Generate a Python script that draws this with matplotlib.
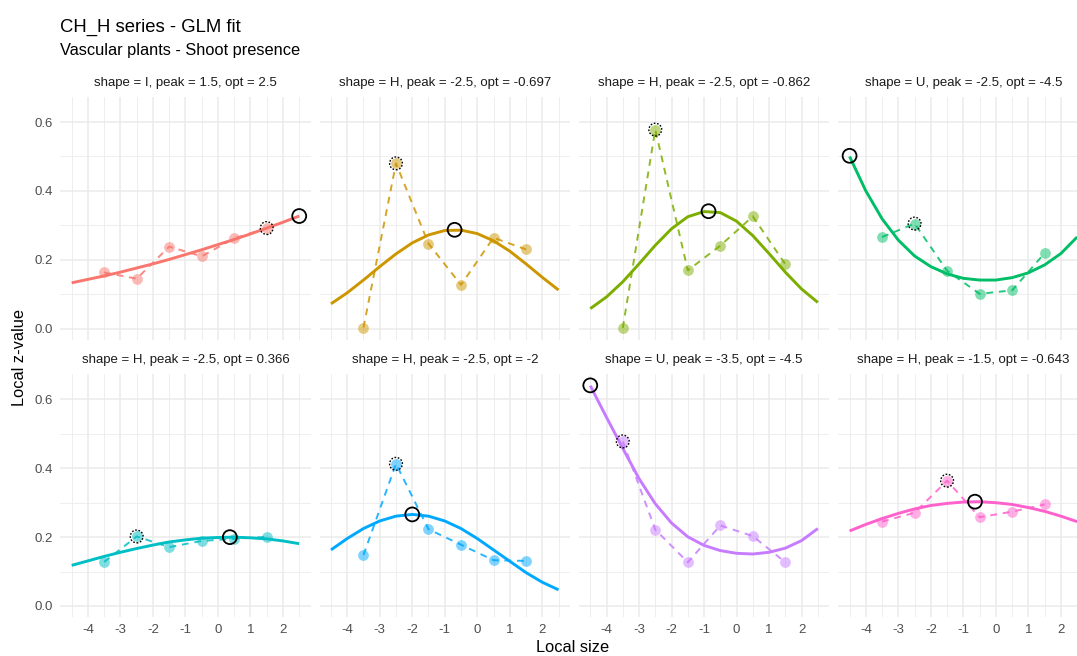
import matplotlib
matplotlib.use("Agg")
import matplotlib.pyplot as plt
from matplotlib.ticker import MultipleLocator
from matplotlib.transforms import offset_copy

plt.rcParams['font.family'] = ['Liberation Sans', 'DejaVu Sans']
plt.rcParams['axes.unicode_minus'] = False

# ---------------- data ----------------
size_points = [-3.5, -2.5, -1.5, -0.5, 0.5, 1.5]
fit_x = [-4.5, -4.0, -3.5, -3.0, -2.5, -2.0, -1.5, -1.0, -0.5, 0.0, 0.5, 1.0, 1.5, 2.0, 2.5]

panel_titles = [
    "shape = I, peak = 1.5, opt = 2.5",
    "shape = H, peak = -2.5, opt = -0.697",
    "shape = H, peak = -2.5, opt = -0.862",
    "shape = U, peak = -2.5, opt = -4.5",
    "shape = H, peak = -2.5, opt = 0.366",
    "shape = H, peak = -2.5, opt = -2",
    "shape = U, peak = -3.5, opt = -4.5",
    "shape = H, peak = -1.5, opt = -0.643",
]
panel_colors = ["#F8766D", "#CD9600", "#7CAE00", "#00BE67",
                "#00BFC4", "#00A9FF", "#C77CFF", "#FF61CC"]

z_p1 = [0.163, 0.145, 0.238, 0.210, 0.262, 0.292]
z_p2 = [0.003, 0.480, 0.247, 0.127, 0.264, 0.230]
z_p3 = [0.002, 0.578, 0.169, 0.241, 0.326, 0.187]
z_p4 = [0.266, 0.305, 0.168, 0.101, 0.111, 0.219]
z_p5 = [0.128, 0.202, 0.171, 0.189, 0.195, 0.201]
z_p6 = [0.148, 0.413, 0.223, 0.178, 0.133, 0.131]
z_p7 = [0.478, 0.222, 0.127, 0.234, 0.203, 0.127]
z_p8 = [0.245, 0.271, 0.364, 0.258, 0.274, 0.295]

fit_p1 = [0.133, 0.143, 0.153, 0.164, 0.176, 0.188, 0.201, 0.215, 0.229, 0.244, 0.259, 0.275, 0.292, 0.309, 0.327]
fit_p2 = [0.072, 0.104, 0.141, 0.180, 0.217, 0.249, 0.272, 0.285, 0.286, 0.276, 0.255, 0.225, 0.188, 0.149, 0.112]
fit_p3 = [0.058, 0.092, 0.136, 0.188, 0.242, 0.290, 0.325, 0.340, 0.337, 0.312, 0.270, 0.218, 0.164, 0.115, 0.076]
fit_p4 = [0.500, 0.400, 0.319, 0.257, 0.211, 0.180, 0.159, 0.146, 0.141, 0.141, 0.148, 0.162, 0.185, 0.218, 0.266]
fit_p5 = [0.118, 0.131, 0.144, 0.156, 0.167, 0.177, 0.186, 0.192, 0.197, 0.199, 0.200, 0.198, 0.195, 0.189, 0.181]
fit_p6 = [0.163, 0.196, 0.225, 0.247, 0.261, 0.266, 0.261, 0.247, 0.225, 0.196, 0.163, 0.130, 0.097, 0.069, 0.047]
fit_p7 = [0.640, 0.548, 0.458, 0.370, 0.297, 0.241, 0.201, 0.176, 0.161, 0.153, 0.151, 0.156, 0.168, 0.190, 0.225]
fit_p8 = [0.218, 0.237, 0.254, 0.269, 0.282, 0.292, 0.298, 0.302, 0.303, 0.300, 0.295, 0.286, 0.275, 0.261, 0.245]

peak_x = [1.5, -2.5, -2.5, -2.5, -2.5, -2.5, -3.5, -1.5]
opt_x = [2.5, -0.697, -0.862, -4.5, 0.366, -2.0, -4.5, -0.643]
opt_y = [0.327, 0.287, 0.341, 0.502, 0.200, 0.266, 0.641, 0.303]

x_ticks = [-4, -3, -2, -1, 0, 1, 2]
x_tick_labels = ["-4", "-3", "-2", "-1", "0", "1", "2"]
y_ticks = [0.0, 0.2, 0.4, 0.6]
y_tick_labels = ["0.0", "0.2", "0.4", "0.6"]

z_all = [z_p1, z_p2, z_p3, z_p4, z_p5, z_p6, z_p7, z_p8]
fit_all = [fit_p1, fit_p2, fit_p3, fit_p4, fit_p5, fit_p6, fit_p7, fit_p8]

# ---------------- layout ----------------
W, H = 1077, 656
fig = plt.figure(figsize=(W / 100, H / 100), dpi=100)
fig.patch.set_facecolor("white")

col_left = [60.3, 319.6, 578.9, 838.2]
col_w = 250.3
row_top = [96.6, 374.0]
row_h = 243.0

grid_col = "#EBEBEB"
txt_col = "#1A1A1A"
tick_col = "#4D4D4D"

for i in range(8):
    r, c = divmod(i, 4)
    ax = fig.add_axes([col_left[c] / W, 1 - (row_top[r] + row_h) / H, col_w / W, row_h / H])
    ax.set_xlim(-4.85, 2.85)
    ax.set_ylim(-0.032, 0.674)
    for s in ax.spines.values():
        s.set_visible(False)
    ax.set_xticks(x_ticks)
    ax.set_yticks(y_ticks)
    ax.xaxis.set_minor_locator(MultipleLocator(0.5))
    ax.yaxis.set_minor_locator(MultipleLocator(0.1))
    ax.grid(which="major", color=grid_col, lw=1.1)
    ax.grid(which="minor", color=grid_col, lw=0.6)
    ax.set_axisbelow(True)
    ax.tick_params(which="both", length=0, colors=tick_col, labelsize=9.5)
    ax.tick_params(axis="x", pad=5)
    ax.tick_params(axis="y", pad=5)
    if r == 1:
        ax.set_xticklabels(x_tick_labels)
    else:
        ax.set_xticklabels([])
    if c == 0:
        ax.set_yticklabels(y_tick_labels)
    else:
        ax.set_yticklabels([])

    col = panel_colors[i]
    z = z_all[i]
    ax.plot(size_points, z, color=col, lw=1.4, alpha=0.85,
            linestyle=(0, (3.5, 3.0)), zorder=2)
    ax.scatter(size_points, z, s=60, color=col, alpha=0.5, lw=0, zorder=3)
    ax.plot(fit_x, fit_all[i], color=col, lw=2.1, solid_capstyle="butt",
            solid_joinstyle="round", zorder=4)
    py = z[size_points.index(peak_x[i])]
    ax.scatter([peak_x[i]], [py], s=85, facecolors="none", edgecolors="black",
               linewidths=1.0, linestyle=(0, (1.2, 1.2)), zorder=5)
    ax.scatter([opt_x[i]], [opt_y[i]], s=100, facecolors="none", edgecolors="black",
               linewidths=1.3, zorder=6)

    tr = offset_copy(ax.transAxes, fig=fig, x=0, y=14.0, units="dots")
    ax.text(0.5, 1.0, panel_titles[i], transform=tr, ha="center", va="center",
            fontsize=9.5, color=txt_col)

fig.text(60.3 / W, 1 - 27 / H, "CH_H series - GLM fit", ha="left", va="center",
         fontsize=13.3, color="black")
fig.text(60.3 / W, 1 - 51 / H, "Vascular plants - Shoot presence", ha="left", va="center",
         fontsize=11.8, color="black")
fig.text(573 / W, 1 - 647 / H, "Local size", ha="center", va="center",
         fontsize=11.8, color="black")
fig.text(20 / W, 1 - 357 / H, "Local z-value", ha="center", va="center",
         rotation=90, fontsize=11.8, color="black")

fig.savefig("out.png", dpi=100, facecolor="white")
